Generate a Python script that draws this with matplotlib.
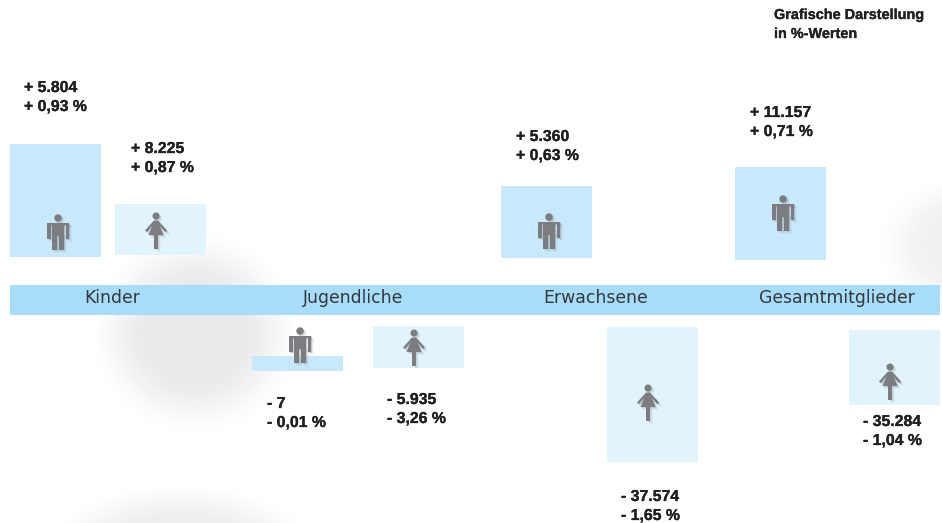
import numpy as np
import matplotlib
matplotlib.use('Agg')
import matplotlib.pyplot as plt
import matplotlib.patches as patches
import matplotlib.patheffects as pe

categories = ['Kinder', 'Jugendliche', 'Erwachsene', 'Gesamtmitglieder']
title = ['Grafische Darstellung', 'in %-Werten']

# bar heights as they are drawn in the picture, not proportional to the percentages
men_height = [113, 15, 72, 93]
women_height = [51, 42, 135, 75]
men_abs = ['+ 5.804', '- 7', '+ 5.360', '+ 11.157']
men_pct = ['+ 0,93 %', '- 0,01 %', '+ 0,63 %', '+ 0,71 %']
women_abs = ['+ 8.225', '- 5.935', '- 37.574', '- 35.284']
women_pct = ['+ 0,87 %', '- 3,26 %', '- 1,65 %', '- 1,04 %']

# layout
men_x = [10, 252, 501, 735]
men_top = [144, 356, 186, 167]
women_x = [115, 373, 607, 849]
women_top = [204, 326, 327, 330]
men_icon_top = [214, 327, 213, 195]
women_icon_top = [212, 329, 384, 363]
men_text = [(24, 92), (267, 408), (516, 141), (750, 117)]
women_text = [(131, 153), (387, 404), (621, 501), (863, 426)]
cat_x = [112, 353, 596, 837]

BAR_W = 91
MEN = '#c8e9fb'
WOMEN = '#e1f3fb'
BANNER = '#a8ddfa'
TXT = '#231f20'
GRAY = '#7b7d81'
BOLD = [pe.withStroke(linewidth=0.2, foreground=TXT)]

fig = plt.figure(figsize=(9.42, 5.23), dpi=100)
ax = fig.add_axes([0, 0, 1, 1])

# soft grey blobs in the background
yy, xx = np.mgrid[0:523, 0:942]
def blob(cx, cy, rx, ry):
    d = np.sqrt(((xx - cx) / rx) ** 2 + ((yy - cy) / ry) ** 2)
    t = np.clip((1 - d) / 0.6, 0, 1)
    return t * t * (3 - 2 * t)

shade = np.maximum.reduce([
    blob(195, 332, 112, 108) * 0.085,
    blob(180, 550, 145, 72) * 0.07,
    blob(965, 245, 95, 75) * 0.055,
])
ax.imshow(1 - shade, cmap='gray', vmin=0, vmax=1, extent=(0, 942, 523, 0),
          aspect='auto', zorder=0, interpolation='bilinear')
ax.set_xlim(0, 942)
ax.set_ylim(523, 0)
ax.axis('off')


def draw_man(cx, top, z=3, col=GRAY, alpha=1.0, d=0):
    cx = cx + d
    top = top + d
    kw = dict(facecolor=col, edgecolor='none', alpha=alpha, zorder=z)
    ax.add_patch(patches.Circle((cx, top + 4), 3.7, **kw))
    ax.add_patch(patches.Rectangle((cx - 6, top + 8.5), 12, 13, **kw))
    ax.add_patch(patches.Rectangle((cx - 11, top + 9), 3.5, 16, **kw))
    ax.add_patch(patches.Rectangle((cx + 7.5, top + 9), 3.5, 16, **kw))
    ax.add_patch(patches.Rectangle((cx - 11, top + 8.5), 22, 2.5, **kw))
    ax.add_patch(patches.Rectangle((cx - 6, top + 20), 5.3, 15.5, **kw))
    ax.add_patch(patches.Rectangle((cx + 0.7, top + 20), 5.3, 15.5, **kw))


def draw_woman(cx, top, z=3, col=GRAY, alpha=1.0, d=0):
    cx = cx + d
    top = top + d
    kw = dict(facecolor=col, edgecolor='none', alpha=alpha, zorder=z)
    ax.add_patch(patches.Circle((cx, top + 4), 3.5, **kw))
    ax.add_patch(patches.Polygon([(cx - 1.5, top + 8.5), (cx + 1.5, top + 8.5),
                                  (cx + 7.5, top + 23), (cx - 7.5, top + 23)], **kw))
    # arms
    ax.add_patch(patches.Polygon([(cx - 2, top + 8.5), (cx - 0.5, top + 10), (cx - 9, top + 20),
                                  (cx - 11, top + 18.5)], **kw))
    ax.add_patch(patches.Polygon([(cx + 2, top + 8.5), (cx + 0.5, top + 10), (cx + 9, top + 20),
                                  (cx + 11, top + 18.5)], **kw))
    ax.add_patch(patches.Rectangle((cx - 1.6, top + 23), 3.2, 13.5, **kw))


ax.add_patch(patches.Rectangle((10, 285), 930, 30, facecolor=BANNER, edgecolor='none', zorder=1))
for c, x in zip(categories, cat_x):
    ax.text(x, 298, c, ha='center', va='center', fontsize=12.4, color='#33383c',
            family='DejaVu Sans', zorder=4)

for i in range(4):
    ax.bar(men_x[i], men_height[i], width=BAR_W, bottom=men_top[i], align='edge',
           color=MEN, linewidth=0, zorder=1)
    ax.bar(women_x[i], women_height[i], width=BAR_W, bottom=women_top[i], align='edge',
           color=WOMEN, linewidth=0, zorder=1)

    # fake blur: a few faint copies behind the icon
    for d, a in [(3.0, 0.06), (2.2, 0.10), (1.4, 0.14), (0.7, 0.18)]:
        draw_man(men_x[i] + 48, men_icon_top[i], z=2, alpha=a, d=d)
        draw_woman(women_x[i] + 41, women_icon_top[i], z=2, alpha=a, d=d)
    draw_man(men_x[i] + 48, men_icon_top[i])
    draw_woman(women_x[i] + 41, women_icon_top[i])

    for (x, y), a, p in [(men_text[i], men_abs[i], men_pct[i]), (women_text[i], women_abs[i], women_pct[i])]:
        for yy_, s in [(y, a), (y + 19, p)]:
            ax.text(x, yy_, s, fontsize=11.4, fontweight='bold', family='Liberation Sans',
                    color=TXT, va='baseline', zorder=5, path_effects=BOLD)

ax.text(774, 19, title[0], fontsize=10.4, fontweight='bold', family='Liberation Sans',
        color=TXT, va='baseline', zorder=5, path_effects=BOLD)
ax.text(774, 38, title[1], fontsize=10.4, fontweight='bold', family='Liberation Sans',
        color=TXT, va='baseline', zorder=5, path_effects=BOLD)

fig.savefig('out.png', dpi=100)
